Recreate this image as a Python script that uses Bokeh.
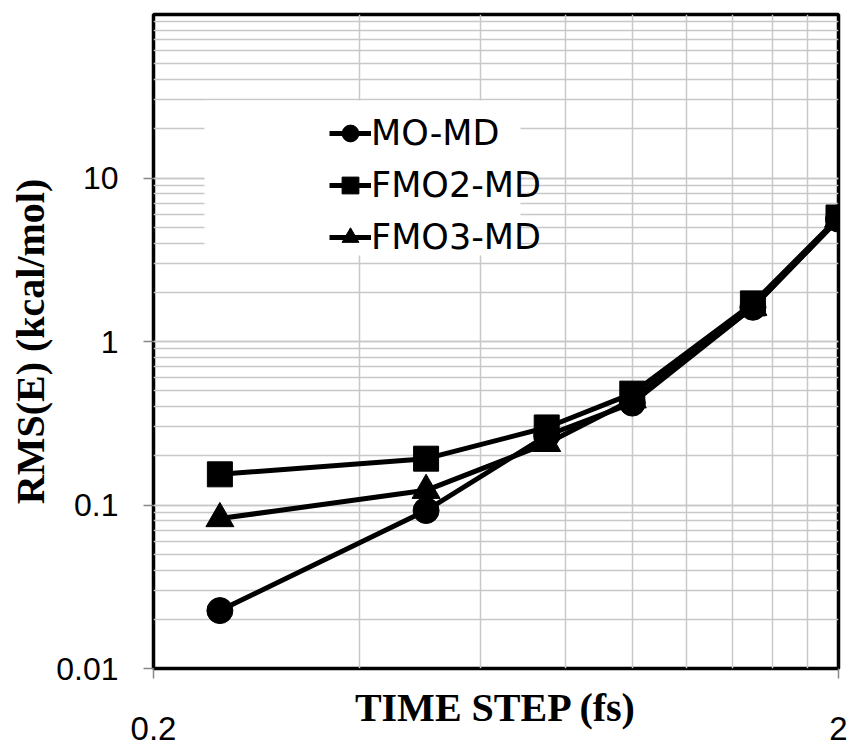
from bokeh.plotting import figure
from bokeh.models import FixedTicker, Legend, LegendItem, BoxAnnotation
from bokeh.embed import file_html
from bokeh.resources import INLINE

# ---- data ----
time_step = [0.25, 0.5, 0.75, 1.0, 1.5, 2.0]
mo_md = [0.0226, 0.0925, 0.266, 0.42, 1.62, 5.6]
fmo2_md = [0.154, 0.192, 0.298, 0.48, 1.71, 5.73]
fmo3_md = [0.0826, 0.123, 0.238, 0.44, 1.62, 5.6]
series_names = ["MO-MD", "FMO2-MD", "FMO3-MD"]

x_ticks = [0.2, 2]
x_tick_labels = ["0.2", "2"]
x_minor = [0.4, 0.6, 0.8, 1.0, 1.2, 1.4, 1.6, 1.8]
y_ticks = [0.01, 0.1, 1, 10]
y_tick_labels = ["0.01", "0.1", "1", "10"]
y_decades = [0.01, 0.1, 1, 10]
y_minor = [d * m for d in y_decades for m in range(1, 10)] + [100]

GRID = "#c8c8c8"

p = figure(width=850, height=748, x_axis_type="log", y_axis_type="log",
           x_range=(0.2, 2), y_range=(0.01, 100),
           output_backend="svg", toolbar_location=None,
           min_border_left=153, min_border_right=12,
           min_border_top=14, min_border_bottom=80)
p.background_fill_color = "white"
p.border_fill_color = "white"
p.outline_line_color = "black"
p.outline_line_width = 3.5

p.xaxis.ticker = FixedTicker(ticks=x_ticks, minor_ticks=x_minor)
p.yaxis.ticker = FixedTicker(ticks=y_ticks, minor_ticks=y_minor)
p.xaxis.major_label_overrides = dict(zip(x_ticks, x_tick_labels))
p.yaxis.major_label_overrides = dict(zip(y_ticks, y_tick_labels))

for ax in (p.xaxis, p.yaxis):
    ax.axis_line_color = None
    ax.major_tick_in = 0
    ax.major_tick_out = 10
    ax.major_tick_line_color = "#888888"
    ax.major_tick_line_width = 1.5
    ax.minor_tick_line_color = None
    ax.major_label_text_font = "Liberation Sans"
    ax.major_label_text_color = "black"
    ax.axis_label_text_font = "Liberation Serif"
    ax.axis_label_text_font_style = "bold"
    ax.axis_label_text_font_size = "40px"
    ax.axis_label_text_color = "black"

p.xaxis.major_label_text_font_size = "33px"
p.xaxis.major_label_standoff = 38
p.yaxis.major_label_text_font_size = "32px"
p.yaxis.major_label_standoff = 25

p.yaxis.axis_label = "RMS(E) (kcal/mol)"
p.yaxis.axis_label_standoff = 0
p.xaxis.axis_label = "TIME STEP (fs)"
p.xaxis.axis_label_standoff = -58

for g in (p.xgrid, p.ygrid):
    g.grid_line_color = GRID
    g.grid_line_width = 1.5
    g.minor_grid_line_color = GRID
    g.minor_grid_line_width = 1.5

# white legend backdrop
p.add_layout(BoxAnnotation(left=51, right=367, top=568, bottom=413,
                           left_units="screen", right_units="screen",
                           top_units="screen", bottom_units="screen",
                           fill_color="white", fill_alpha=1.0,
                           line_color=None, level="underlay"))

LW = 5
l1 = p.line(time_step, mo_md, line_color="black", line_width=LW)
s1 = p.scatter(time_step, mo_md, marker="circle", size=26, color="black")
l2 = p.line(time_step, fmo2_md, line_color="black", line_width=LW)
s2 = p.scatter(time_step, fmo2_md, marker="square", size=25, color="black")
l3 = p.line(time_step, fmo3_md, line_color="black", line_width=LW)
s3 = p.scatter(time_step, fmo3_md, marker="triangle", size=28, color="black")

legend = Legend(items=[
    LegendItem(label=series_names[0], renderers=[l1, s1]),
    LegendItem(label=series_names[1], renderers=[l2, s2]),
    LegendItem(label=series_names[2], renderers=[l3, s3]),
], location=(176, 409))
legend.background_fill_alpha = 0
legend.border_line_color = None
legend.padding = 0
legend.margin = 0
legend.spacing = 8
legend.glyph_width = 42
legend.glyph_height = 44
legend.label_height = 44
legend.label_standoff = 0
legend.label_text_font = "DejaVu Sans"
legend.label_text_font_size = "35px"
legend.label_text_color = "black"
legend.label_text_baseline = "middle"
p.add_layout(legend)

open("out.html", "w").write(file_html(p, INLINE))
